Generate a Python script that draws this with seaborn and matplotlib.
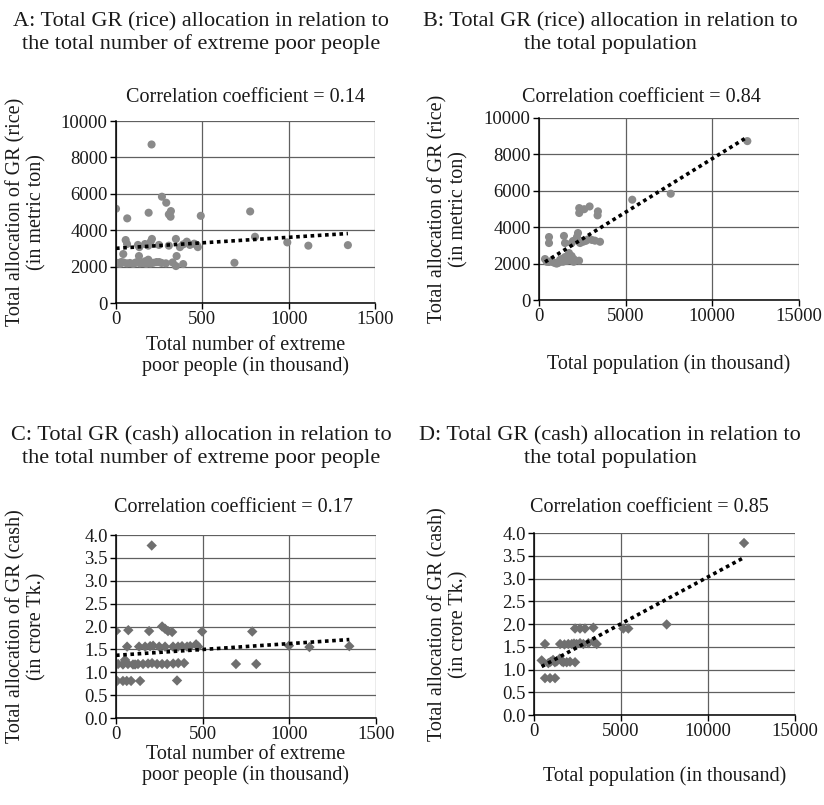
import matplotlib
matplotlib.use("Agg")
import matplotlib.pyplot as plt
import numpy as np
import pandas as pd
import seaborn as sns

# A: extreme poor (thousand) vs rice allocation (metric ton)
a_poor = [206, 0, 65, 189, 266, 291, 318, 306, 316, 491, 777,
          56, 64, 127, 135, 168, 187, 200, 208, 249, 306, 347, 370, 389, 410, 428, 453, 468, 474,
          805, 992, 1114, 1343,
          42, 133, 351, 187,
          8, 23, 42, 62, 81, 100, 119, 139, 154, 168, 187, 200, 216, 235, 264, 289, 328, 389, 347, 686,
          30, 110, 175, 250]
a_rice = [8710, 5180, 4650, 4960, 5840, 5510, 5050, 4870, 4740, 4790, 5030,
          3460, 3240, 3190, 3070, 3240, 3150, 3350, 3520, 3190, 3150, 3520, 3070, 3220, 3370, 3190, 3260, 3190, 3070,
          3640, 3330, 3150, 3180,
          2690, 2580, 2580, 2380,
          2200, 2150, 2230, 2180, 2200, 2150, 2240, 2180, 2200, 2290, 2230, 2170, 2210, 2250, 2200, 2180, 2230, 2140, 2030, 2210,
          2250, 2200, 2150, 2250]

# B: total population (thousand) vs rice allocation (metric ton)
b_pop = [12020, 7600, 5380, 2320, 2320, 2610, 2920, 3400, 3380,
         577, 577, 1440, 1500, 1960, 2190, 2250, 2370, 2540, 2830, 3230, 3520, 1880, 2700, 3050,
         346, 577, 923, 1210, 1500, 1730, 1880, 1790, 2310, 1385, 1100, 730, 1020, 1300, 1650, 2000,
         450, 800, 1150, 1600, 2000]
b_rice = [8730, 5840, 5510, 5050, 4780, 4990, 5140, 4870, 4650,
          3460, 3130, 3520, 3130, 3240, 3460, 3680, 3130, 3200, 3330, 3260, 3200, 3130, 3250, 3300,
          2250, 2090, 2030, 2200, 2360, 2580, 2420, 2200, 2160, 2100, 2050, 2150, 2000, 2250, 2300, 2250,
          2100, 2080, 2060, 2150, 2100]

# C: extreme poor (thousand) vs cash allocation (crore Tk.)
c_poor = [206,
          0, 71, 191, 497, 786, 266, 283, 300, 324,
          64, 133, 168, 197, 214, 249, 283, 329, 358, 381, 410, 428, 462, 474, 998, 1116, 1346,
          12, 52, 69, 98, 127, 156, 185, 208, 237, 266, 295, 330, 359, 393, 692, 809, 40, 110,
          6, 40, 62, 87, 139, 352]
c_cash = [3.77,
          1.90, 1.92, 1.90, 1.89, 1.89, 2.00, 1.95, 1.90, 1.88,
          1.56, 1.56, 1.56, 1.57, 1.58, 1.56, 1.56, 1.56, 1.56, 1.57, 1.56, 1.57, 1.61, 1.56, 1.58, 1.55, 1.57,
          1.18, 1.27, 1.18, 1.17, 1.18, 1.18, 1.19, 1.20, 1.18, 1.18, 1.18, 1.19, 1.20, 1.20, 1.18, 1.18, 1.17, 1.17,
          0.81, 0.81, 0.81, 0.81, 0.81, 0.82]

# D: total population (thousand) vs cash allocation (crore Tk.)
d_pop = [12070, 7625, 5135, 5420, 2360, 2645, 2930, 3410,
         630, 1500, 1970, 2170, 2450, 2645, 2835, 3125, 3410, 3605, 1750, 2300,
         440, 825, 1095, 1300, 1480, 1685, 1880, 2070, 2360, 950, 1200, 1600,
         632, 920, 1210]
d_cash = [3.78, 1.99, 1.90, 1.90, 1.90, 1.90, 1.90, 1.92,
          1.56, 1.56, 1.56, 1.56, 1.56, 1.58, 1.56, 1.58, 1.61, 1.56, 1.55, 1.57,
          1.20, 1.14, 1.21, 1.18, 1.24, 1.16, 1.16, 1.17, 1.16, 1.17, 1.16, 1.18,
          0.81, 0.81, 0.81]

titles = ["A: Total GR (rice) allocation in relation to\nthe total number of extreme poor people",
          "B: Total GR (rice) allocation in relation to\nthe total population",
          "C: Total GR (cash) allocation in relation to\nthe total number of extreme poor people",
          "D: Total GR (cash) allocation in relation to\nthe total population"]
corr_labels = ["Correlation coefficient = 0.14", "Correlation coefficient = 0.84",
               "Correlation coefficient = 0.17", "Correlation coefficient = 0.85"]
xlabels = ["Total number of extreme\npoor people (in thousand)", "Total population (in thousand)",
           "Total number of extreme\npoor people (in thousand)", "Total population (in thousand)"]
ylabels = ["Total allocation of GR (rice)\n(in metric ton)", "Total allocation of GR (rice)\n(in metric ton)",
           "Total allocation of GR (cash)\n(in crore Tk.)", "Total allocation of GR (cash)\n(in crore Tk.)"]

sns.set_theme(style="white")
plt.rcParams["font.family"] = ["Liberation Serif", "DejaVu Serif"]
plt.rcParams["text.color"] = "#1a1a1a"

W, H = 824, 805
fig = plt.figure(figsize=(W / 100, H / 100), dpi=100)
fig.patch.set_facecolor("white")


def rect(l, r, t, b):
    return [l / W, 1 - b / H, (r - l) / W, (b - t) / H]


# pixel boxes of the four plot areas
boxes = [(116, 375, 121, 303), (539, 799, 118, 300), (116, 376, 535, 718), (534, 795, 533, 715)]
panels = [(a_poor, a_rice), (b_pop, b_rice), (c_poor, c_cash), (d_pop, d_cash)]
xlabel_offset = [53, 64, 47, 61]

for i, ((l, r, t, b), (xs, ys)) in enumerate(zip(boxes, panels)):
    ax = fig.add_axes(rect(l, r, t, b))
    df = pd.DataFrame({"x": xs, "y": ys})
    rice = i < 2
    if rice:
        sns.scatterplot(data=df, x="x", y="y", ax=ax, color="#8a8a8a", s=34, marker="o",
                        edgecolor="none", zorder=3)
    else:
        sns.scatterplot(data=df, x="x", y="y", ax=ax, color="#6f6f6f", s=28, marker="D",
                        edgecolor="none", zorder=3)
    sns.regplot(data=df, x="x", y="y", ax=ax, scatter=False, ci=None, truncate=True,
                line_kws={"color": "black", "ls": (0, (1, 1)), "lw": 2.6, "zorder": 4})

    xmax = 1500 if i % 2 == 0 else 15000
    ax.set_xlim(0, xmax)
    ax.set_xticks(np.linspace(0, xmax, 4))
    if rice:
        ax.set_ylim(0, 10000)
        ax.set_yticks(np.arange(0, 10001, 2000))
    else:
        ax.set_ylim(0, 4.0)
        ax.set_yticks(np.arange(0, 4.01, 0.5))
        ax.set_yticklabels([f"{v:.1f}" for v in np.arange(0, 4.01, 0.5)])
    ax.set_xlabel("")
    ax.set_ylabel("")
    ax.grid(True, color="#606060", lw=0.9)
    ax.set_axisbelow(True)
    for s in ["top", "right"]:
        ax.spines[s].set_visible(False)
    for s in ["left", "bottom"]:
        ax.spines[s].set_color("black")
        ax.spines[s].set_linewidth(1.1)
        ax.spines[s].set_zorder(5)
    ax.tick_params(direction="out", length=4, width=1, color="black", labelsize=13.5,
                   labelcolor="#1a1a1a", pad=2, left=True, bottom=True)

    cx = (l + r) / 2
    # panel title, correlation note, axis labels
    tx = 201 if i % 2 == 0 else 610
    ty = 33 if i < 2 else 447
    fig.text(tx / W, 1 - ty / H, titles[i], ha="center", va="center", fontsize=16, linespacing=1.22)
    cy = 97 if i < 2 else 507
    ccx = 246 if i == 0 else (641 if i == 1 else (233 if i == 2 else 649))
    fig.text(ccx / W, 1 - cy / H, corr_labels[i], ha="center", va="center", fontsize=14.5)
    xy = b + xlabel_offset[i]
    fig.text(cx / W, 1 - xy / H, xlabels[i], ha="center", va="center", fontsize=14.5, linespacing=1.15)
    yx = 26 if i % 2 == 0 else 448
    fig.text(yx / W, 1 - ((t + b) / 2) / H, ylabels[i], ha="center", va="center", rotation=90,
             fontsize=14.5, linespacing=1.15)

fig.savefig("out.png", dpi=100, facecolor="white")
